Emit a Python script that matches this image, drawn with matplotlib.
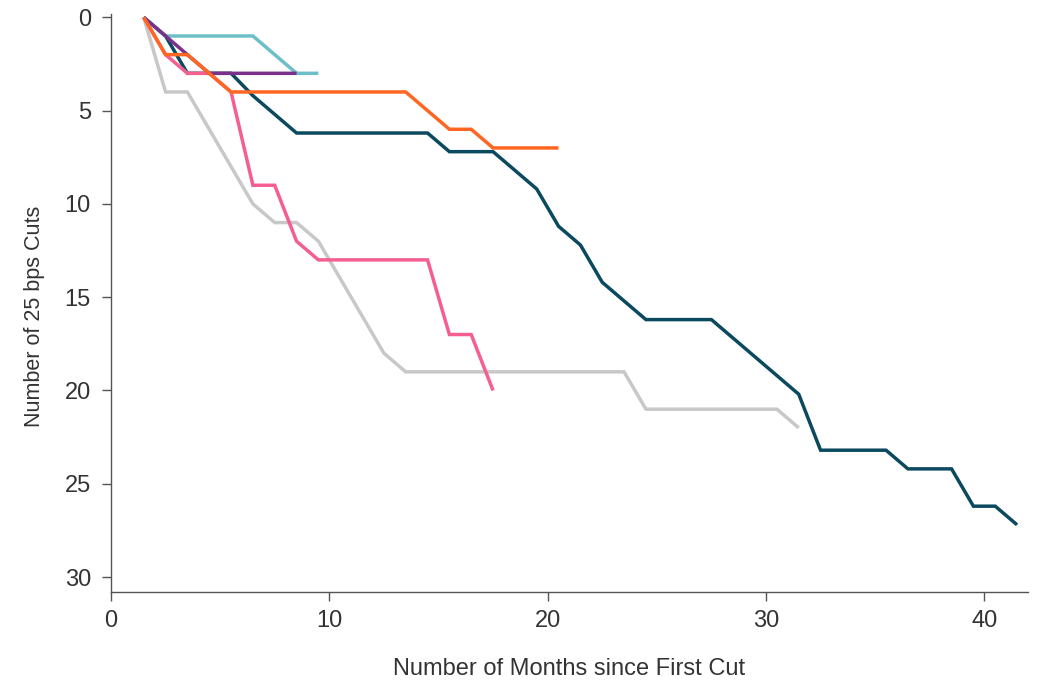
import matplotlib
matplotlib.use("Agg")
import matplotlib.pyplot as plt
import numpy as np

plt.rcParams['font.family'] = ['Liberation Sans', 'DejaVu Sans']

# Data: months since first cut (mid-month positions) and cumulative 25bp cuts
gray_x = [1.5 + i for i in range(31)]
gray_y = [0, 4, 4, 6, 8, 10, 11, 11, 12, 14, 16, 18, 19, 19, 19, 19, 19, 19, 19, 19,
          19, 19, 19, 21, 21, 21, 21, 21, 21, 21, 22]

navy_x = [1.5 + i for i in range(41)]
navy_y = [0, 1, 3, 3, 3, 4.2, 5.2, 6.2, 6.2, 6.2, 6.2, 6.2, 6.2, 6.2, 7.2, 7.2, 7.2,
          8.2, 9.2, 11.2, 12.2, 14.2, 15.2, 16.2, 16.2, 16.2, 16.2, 17.2, 18.2, 19.2,
          20.2, 23.2, 23.2, 23.2, 23.2, 24.2, 24.2, 24.2, 26.2, 26.2, 27.2]

pink_x = [1.5 + i for i in range(17)]
pink_y = [0, 2, 3, 3, 4, 9, 9, 12, 13, 13, 13, 13, 13, 13, 17, 17, 20]

teal_x = [1.5 + i for i in range(9)]
teal_y = [0, 1, 1, 1, 1, 1, 2, 3, 3]

purple_x = [1.5 + i for i in range(8)]
purple_y = [0, 1, 2, 3, 3, 3, 3, 3]

orange_x = [1.5 + i for i in range(20)]
orange_y = [0, 2, 2, 3, 4, 4, 4, 4, 4, 4, 4, 4, 4, 5, 6, 6, 7, 7, 7, 7]

x_ticks = [0, 10, 20, 30, 40]
y_ticks = [0, 5, 10, 15, 20, 25, 30]

fig = plt.figure(figsize=(10.41, 6.80), dpi=100)
ax = fig.add_axes([0.1066, 0.1294, 0.8809, 0.8506])

lw = 2.5
series = [
    (gray_x, gray_y, '#c8c8c8'),
    (navy_x, navy_y, '#0b4a5e'),
    (pink_x, pink_y, '#f55f90'),
    (teal_x, teal_y, '#6cbfc8'),
    (purple_x, purple_y, '#7a3189'),
    (orange_x, orange_y, '#ff6622'),
]
for xs, ys, c in series:
    ax.plot(xs, ys, color=c, lw=lw, solid_joinstyle='miter', solid_capstyle='butt')

ax.set_xlim(0, 42)
ax.set_ylim(30.8, -0.2)
ax.set_xticks(x_ticks)
ax.set_yticks(y_ticks)

for s in ['top', 'right']:
    ax.spines[s].set_visible(False)
for s in ['left', 'bottom']:
    ax.spines[s].set_color('#555555')
    ax.spines[s].set_linewidth(1.0)

ax.tick_params(axis='both', colors='#555555', length=6.5, width=1.0, labelsize=17,
               labelcolor='#333333')
ax.tick_params(axis='y', pad=8)
ax.tick_params(axis='x', pad=6.5)

ax.set_xlabel('Number of Months since First Cut', fontsize=17, color='#333333', labelpad=19)
ax.set_ylabel('Number of 25 bps Cuts', fontsize=15.5, color='#333333', labelpad=14)
ax.yaxis.label.set_y(0.477)

fig.savefig('out.png', dpi=100)
